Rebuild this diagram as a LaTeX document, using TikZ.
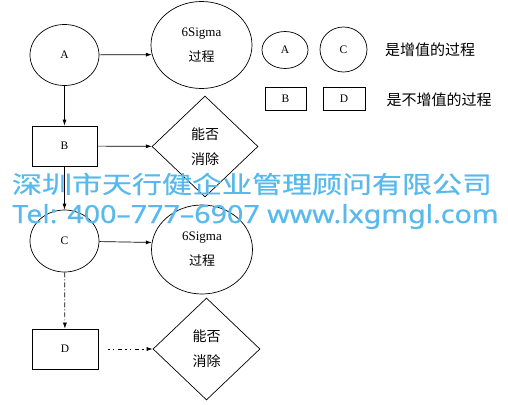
\documentclass[tikz,border=0pt]{standalone}
\usepackage{fontspec}
\setmainfont{Liberation Serif}
\newfontfamily\cjk{Noto Sans CJK SC}
\newfontfamily\wmcjk[FakeStretch=1.25,FakeBold=0.6]{Noto Sans CJK SC}
\newfontfamily\wmlat[FakeStretch=1.145,FakeBold=0.6]{Noto Sans}
\usetikzlibrary{shapes.geometric,arrows.meta}
\definecolor{wmblue}{RGB}{88,186,236}
\begin{document}
\begin{tikzpicture}[x=1pt,y=-1pt,line width=0.7pt,
    lab/.style={font=\fontsize{11.5}{13}\selectfont},
    valued/.style={draw,ellipse,inner sep=0pt,minimum width=69pt,minimum height=61pt,lab},
    waste/.style={draw,rectangle,inner sep=0pt,minimum width=65pt,minimum height=40pt,lab},
    sigma/.style={draw,ellipse,inner sep=0pt,minimum width=101pt,minimum height=87pt,
      align=center,font=\fontsize{13}{25}\selectfont},
    decide/.style={draw,diamond,inner sep=0pt,minimum width=106pt,minimum height=101pt,
      align=center,font=\cjk\fontsize{14}{25}\selectfont},
    keytext/.style={font=\cjk\fontsize{15}{17}\selectfont,inner sep=0pt},
    flow/.style={-{Latex[length=6pt,width=4pt]}},
    wm/.style={text=wmblue,inner sep=0pt}]
  \useasboundingbox (0,0) rectangle (508,404);
  % main chain
  \node[valued] (A) at (64.5,55) {A};
  \node[sigma] (sA) at (201.5,45) {6Sigma\\{\cjk 过程}};
  \node[waste] (B) at (64.5,146) {B};
  \node[decide] (dB) at (205,146.5) {能否\\消除};
  \node[valued,minimum height=62pt] (C) at (64.5,241) {C};
  \node[sigma,minimum height=89pt] (sC) at (202,249.5) {6Sigma\\{\cjk 过程}};
  \node[waste,minimum width=66pt] (D) at (65,349) {D};
  \node[decide,minimum width=107pt,minimum height=102pt] (dD) at (206.5,349) {能否\\消除};
  % legend
  \node[draw,ellipse,inner sep=0pt,minimum width=46pt,minimum height=37pt,lab] (kA) at (285,50) {A};
  \node[draw,ellipse,inner sep=0pt,minimum width=47pt,minimum height=45pt,lab] (kC) at (343.5,49.5) {C};
  \node[keytext] (tv) at (430,50) {是增值的过程};
  \node[draw,rectangle,inner sep=0pt,minimum width=41pt,minimum height=23pt,lab] (kB) at (285.5,98.5) {B};
  \node[draw,rectangle,inner sep=0pt,minimum width=42pt,minimum height=23pt,lab] (kD) at (344,98.5) {D};
  \node[keytext] (tn) at (439,100) {是不增值的过程};
  % connectors
  \draw[flow] (A) -- (sA.191);
  \draw[flow] (A) -- (B);
  \draw[flow] (B) -- (dB);
  \draw[flow] (B) -- (C);
  \draw[flow] (C) -- (sC.172);
  \draw[flow,dash pattern=on 5pt off 2pt on 1pt off 2pt] (C) -- (D);
  \draw[flow,dash pattern=on 1.5pt off 3pt on 1.5pt off 4pt on 4pt off 3pt,shorten <=10pt] (D) -- (dD);
  % watermark
  \node[wm,font=\wmcjk\fontsize{24}{26}\selectfont] (wm1) at (252,184) {深圳市天行健企业管理顾问有限公司};
  \node[wm,font=\wmlat\fontsize{25}{27}\selectfont,anchor=base west] (wm2) at (12,223) {Tel: 400–777–6907 www.lxgmgl.com};
\end{tikzpicture}
\end{document}
